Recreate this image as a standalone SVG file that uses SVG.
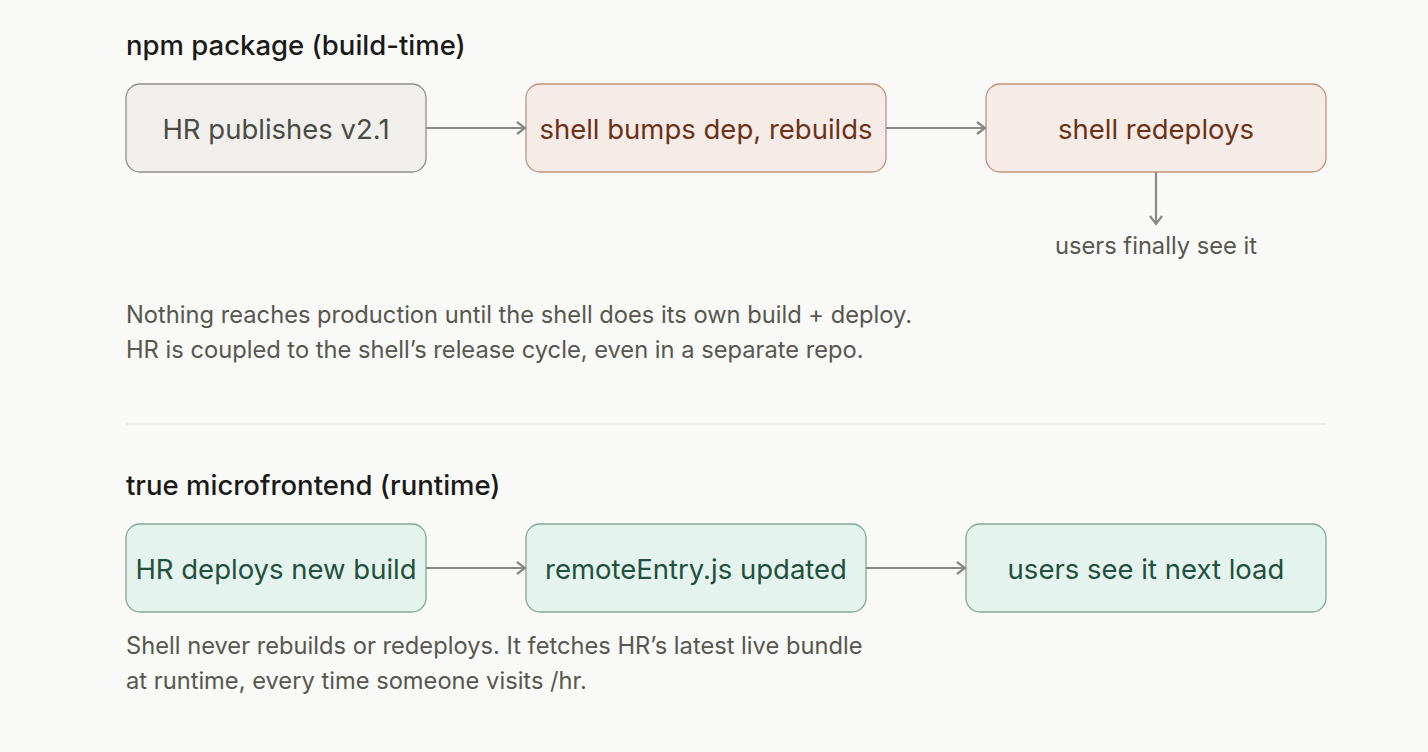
<svg xmlns="http://www.w3.org/2000/svg" width="1428" height="752" viewBox="0 0 1428 752">
<defs>
<marker id="arr" markerWidth="14" markerHeight="14" refX="11" refY="7" orient="auto" markerUnits="userSpaceOnUse">
<path d="M3,1 L11,7 L3,13" fill="none" stroke="#8a8a84" stroke-width="2.2"/>
</marker>
<style>
.title{font-family:Inter,"Liberation Sans",sans-serif;font-size:27.5px;font-weight:500;fill:#1a1a18}
.lbl{font-family:Inter,"Liberation Sans",sans-serif;font-size:27.5px;text-anchor:middle}
.note{font-family:Inter,"Liberation Sans",sans-serif;font-size:23.7px;fill:#57574f}
.gray rect{fill:#f0efeb;stroke:#8e8e88;stroke-width:1.3}
.gray text{fill:#4a4a45}
.warm rect{fill:#f6ece7;stroke:#c2917e;stroke-width:1.3}
.warm text{fill:#6b3219}
.green rect{fill:#e4f3ee;stroke:#82a896;stroke-width:1.3}
.green text{fill:#22503c}
.conn line{stroke:#8a8a84;stroke-width:2.2;marker-end:url(#arr)}
</style>
</defs>
<rect width="1428" height="752" fill="#f9f9f7"/>
<text class="title" x="126" y="55">npm package (build-time)</text>
<g id="n1" class="gray"><rect x="126" y="84" width="300" height="88" rx="14"/><text class="lbl" x="276" y="139">HR publishes v2.1</text></g>
<g id="n2" class="warm"><rect x="526" y="84" width="360" height="88" rx="14"/><text class="lbl" x="706" y="139">shell bumps dep, rebuilds</text></g>
<g id="n3" class="warm"><rect x="986" y="84" width="340" height="88" rx="14"/><text class="lbl" x="1156" y="139">shell redeploys</text></g>
<g id="n4"><text class="note" x="1156" y="254" text-anchor="middle">users finally see it</text></g>
<text class="note" x="126" y="323">Nothing reaches production until the shell does its own build + deploy.</text>
<text class="note" x="126" y="358">HR is coupled to the shell’s release cycle, even in a separate repo.</text>
<line x1="126" y1="424" x2="1326" y2="424" stroke="#e8e8e4" stroke-width="1.5"/>
<text class="title" x="126" y="495">true microfrontend (runtime)</text>
<g id="m1" class="green"><rect x="126" y="524" width="300" height="88" rx="14"/><text class="lbl" x="276" y="579">HR deploys new build</text></g>
<g id="m2" class="green"><rect x="526" y="524" width="340" height="88" rx="14"/><text class="lbl" x="696" y="579">remoteEntry.js updated</text></g>
<g id="m3" class="green"><rect x="966" y="524" width="360" height="88" rx="14"/><text class="lbl" x="1146" y="579">users see it next load</text></g>
<text class="note" x="126" y="654">Shell never rebuilds or redeploys. It fetches HR’s latest live bundle</text>
<text class="note" x="126" y="689">at runtime, every time someone visits /hr.</text>
<g id="connectors" class="conn">
<line x1="426" y1="128" x2="525" y2="128"/>
<line x1="886" y1="128" x2="985" y2="128"/>
<line x1="1156" y1="172" x2="1156" y2="224"/>
<line x1="426" y1="568" x2="525" y2="568"/>
<line x1="866" y1="568" x2="965" y2="568"/>
</g>
</svg>
